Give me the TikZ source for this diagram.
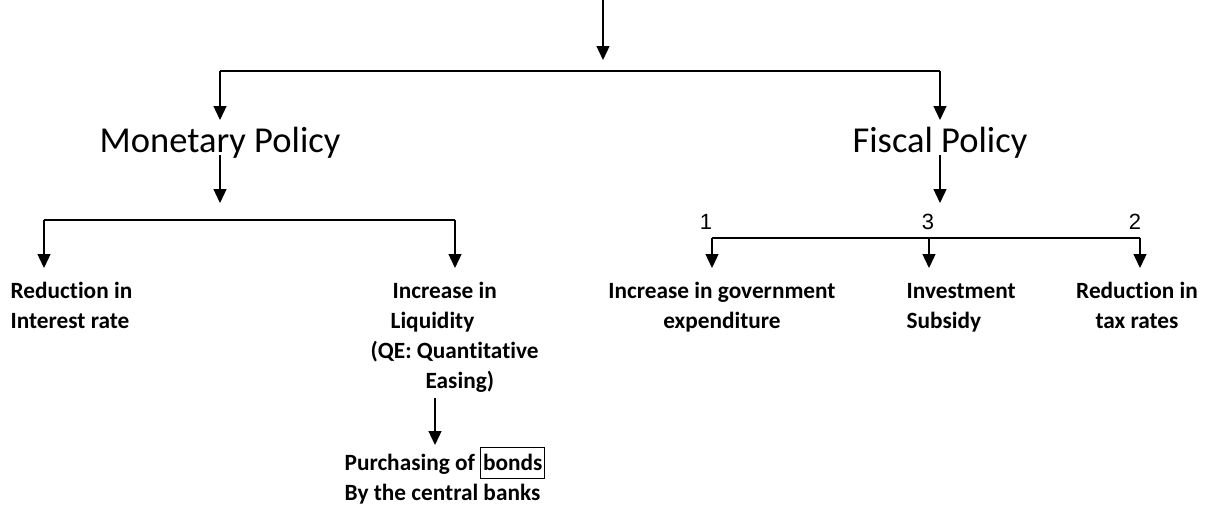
\documentclass[tikz,border=0pt]{standalone}
\usepackage{fontspec}
\setmainfont[Ligatures=NoCommon]{Carlito}
\newfontfamily\arialfont{Liberation Sans}
\usetikzlibrary{arrows.meta,positioning}

\newcommand{\framedword}[1]{{\setlength{\fboxsep}{2pt}\setlength{\fboxrule}{0.8pt}\fbox{\rule[-5pt]{0pt}{26pt}#1}}}
\newcommand{\linestrut}{\rule{0pt}{17.6pt}}

\tikzset{
  arr/.style={-{Triangle[width=13pt,length=14pt]}},
  policy/.style={font=\fontsize{36.5}{40}\selectfont, inner sep=0pt, text height=29pt, text depth=0pt, outer ysep=3pt},
  effect/.style={font=\bfseries\fontsize{23.3}{30}\selectfont, inner xsep=0pt, inner ysep=12pt},
  rank/.style={font=\arialfont\fontsize{22}{26}\selectfont, inner sep=0pt}
}

\begin{document}
\begin{tikzpicture}[x=1pt,y=-1pt,line width=1.3pt]
\useasboundingbox (0,0) rectangle (1205,506);

\coordinate (in) at (603,0);
\coordinate (inend) at (603,60);
\coordinate (mturn) at (220,71);
\coordinate (fturn) at (940,71);

\node[policy, anchor=base] (mon) at (220,152) {Monetary Policy};
\node[policy, anchor=base] (fis) at (940,152) {Fiscal Policy};

\draw[arr] (in) -- (inend);
\draw (mturn) -- (fturn);
\draw[arr] (mturn) -- (mon.north);
\draw[arr] (fturn) -- (fis.north);

% monetary side
\coordinate (mend) at (220,203);
\coordinate (ml) at (44,220);
\coordinate (mr) at (455,220);
\draw[arr] (mon.south) -- (mend);
\draw (ml) -- (mr);

\node[effect, align=left, anchor=north west] (rate) at (10,268) {\linestrut Reduction in\\Interest rate};
\node[effect, align=left, anchor=north west] (liq) at (370,268)
  {\hspace*{22pt}\linestrut Increase in\\\hspace*{20pt}Liquidity\\(QE: Quantitative\\\hspace*{55pt}Easing)};
\draw[arr] (ml) -- (ml |- rate.north);
\draw[arr] (mr) -- (mr |- liq.north);

\coordinate (qe) at (435,398);
\node[effect, align=left, anchor=north west, inner ysep=1.2pt] (buy) at (344,445)
  {Purchasing of \framedword{bonds}\\By the central banks};
\draw[arr] (qe) -- (qe |- buy.north);

% fiscal side
\coordinate (fend) at (940,203);
\coordinate (fl) at (712,238);
\coordinate (fm) at (929,238);
\coordinate (fr) at (1140,238);
\draw[arr] (fis.south) -- (fend);
\draw (fl) -- (fr);

\node[rank] (n1) at (706,222) {1};
\node[rank] (n3) at (928,222) {3};
\node[rank] (n2) at (1135,222) {2};

\node[effect, align=center, anchor=north] (gov) at (722,268) {\linestrut Increase in government\\expenditure};
\node[effect, align=left, anchor=north west] (sub) at (906,268) {\linestrut Investment\\Subsidy};
\node[effect, align=center, anchor=north] (tax) at (1137,268) {\linestrut Reduction in\\tax rates};
\draw[arr] (fl) -- (fl |- gov.north);
\draw[arr] (fm) -- (fm |- sub.north);
\draw[arr] (fr) -- (fr |- tax.north);

\end{tikzpicture}
\end{document}
